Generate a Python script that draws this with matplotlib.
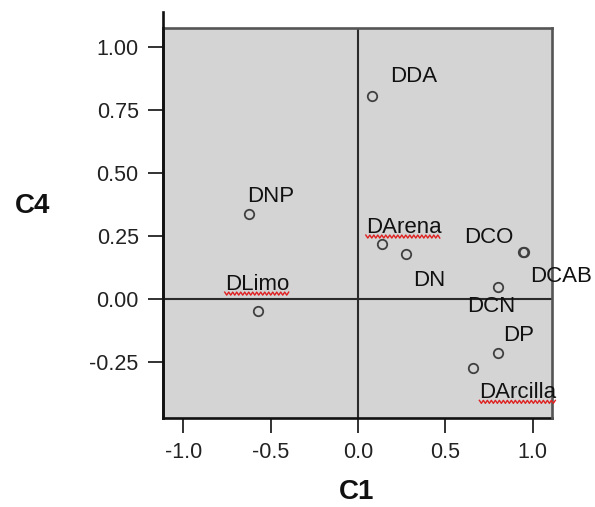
import numpy as np
import matplotlib
matplotlib.use("Agg")
import matplotlib.pyplot as plt
from matplotlib.lines import Line2D
from matplotlib.transforms import IdentityTransform

plt.rcParams['font.family'] = ['Liberation Sans', 'DejaVu Sans']

# ---- data ----
labels = ["DDA", "DNP", "DArena", "DN", "DCO", "DCAB", "DCN", "DLimo", "DP", "DArcilla"]
c1 = [0.078, -0.622, 0.136, 0.276, 0.946, 0.950, 0.803, -0.574, 0.803, 0.660]
c4 = [0.806, 0.335, 0.217, 0.176, 0.184, 0.186, 0.048, -0.049, -0.217, -0.276]
x_ticks = [-1.0, -0.5, 0.0, 0.5, 1.0]
y_ticks = [1.00, 0.75, 0.50, 0.25, 0.00, -0.25]
x_ticklabels = ["-1.0", "-0.5", "0.0", "0.5", "1.0"]
y_ticklabels = ["1.00", "0.75", "0.50", "0.25", "0.00", "-0.25"]
# label offsets (pixels) from the point and whether a spellcheck squiggle is shown
label_dx = [18, -2, -16, 7, -59, 6, -31, -33, 5, 6]
label_dy = [14, 12, 11, -32, 9, -30, -25, 21, 12, -30]
squiggle = [False, False, True, False, False, False, False, True, False, True]

W, H, DPI = 595, 507, 100
fig = plt.figure(figsize=(W / DPI, H / DPI), dpi=DPI)
ax = fig.add_axes([163 / W, 1 - 418 / H, (552 - 163) / W, (418 - 28) / H])
ax.set_facecolor('#d4d4d4')
ax.set_xlim(-1.116, 1.11)
ax.set_ylim(-0.473, 1.074)

ax.axvline(0, color='#2a2a2a', lw=1.5, zorder=1)
ax.axhline(0, color='#2a2a2a', lw=1.5, zorder=1)

ax.plot(c1, c4, linestyle='none', marker='o', ms=6.8, mfc='none',
        mec='#404040', mew=1.3, zorder=3)

texts = []
for lab, x, y, dx, dy in zip(labels, c1, c4, label_dx, label_dy):
    t = ax.annotate(lab, (x, y), xytext=(dx, dy), textcoords='offset pixels',
                    ha='left', va='baseline', fontsize=16, color='#111111',
                    annotation_clip=False, zorder=5)
    texts.append(t)

for side in ['left', 'bottom']:
    ax.spines[side].set_color('#111111')
    ax.spines[side].set_linewidth(1.9)
for side in ['top', 'right']:
    ax.spines[side].set_color('#555555')
    ax.spines[side].set_linewidth(1.9)
ax.spines['right'].set_zorder(4)

# left axis line extends above the frame
ax.plot([0, 0], [0, 1.041], transform=ax.transAxes, color='#111111',
        lw=1.9, clip_on=False, zorder=6)

ax.set_xticks(x_ticks)
ax.set_xticklabels(x_ticklabels)
ax.set_yticks(y_ticks)
ax.set_yticklabels(y_ticklabels)
ax.tick_params(direction='out', length=10.5, width=1.3, color='#222222',
               labelsize=15.5, labelcolor='#222222', pad=7)

fig.text(357 / W, 1 - 492 / H, "C1", ha='center', va='center',
         fontsize=20, fontweight='bold', color='#111111')
fig.text(33 / W, 1 - 206 / H, "C4", ha='center', va='center',
         fontsize=20, fontweight='bold', color='#111111')

# spellcheck-style red squiggles under some labels
fig.canvas.draw()
renderer = fig.canvas.get_renderer()
for t, x, y, dy, sq in zip(texts, c1, c4, label_dy, squiggle):
    if not sq:
        continue
    bb = t.get_window_extent(renderer)
    base = ax.transData.transform((x, y))[1] + dy
    xs = np.arange(bb.x0, bb.x1 + 0.1, 2.0)
    ys = base - 3.5 + np.where(np.arange(len(xs)) % 2 == 0, 1.5, -1.5)
    fig.add_artist(Line2D(xs, ys, transform=IdentityTransform(),
                          color='#e02020', lw=1.0, zorder=7))

fig.savefig('out.png', dpi=DPI)
